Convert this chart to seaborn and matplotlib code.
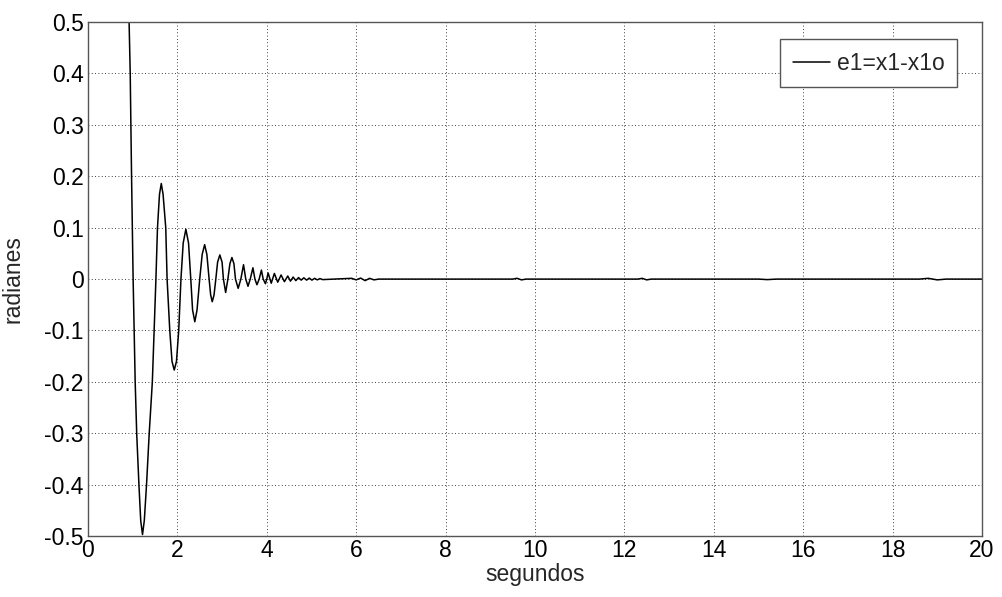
import matplotlib
matplotlib.use("Agg")
import matplotlib.pyplot as plt
import seaborn as sns
import pandas as pd

# ---- data (seconds, radians) ----
t_main = [0.91, 0.92, 0.945, 0.975, 1.01, 1.056, 1.09, 1.14, 1.18, 1.22, 1.26, 1.31, 1.37, 1.44, 1.48, 1.52,
          1.555, 1.60, 1.64, 1.68, 1.74, 1.77,
          1.83, 1.88, 1.93, 1.98, 2.03, 2.08,
          2.13, 2.19, 2.25, 2.30,
          2.34, 2.39, 2.44, 2.50,
          2.555, 2.61, 2.66, 2.71,
          2.745, 2.78, 2.82, 2.86,
          2.90, 2.95, 3.00, 3.03,
          3.08, 3.13,
          3.175, 3.22, 3.265, 3.30,
          3.36, 3.42,
          3.48, 3.53,
          3.58, 3.63,
          3.69, 3.735,
          3.78, 3.83,
          3.88, 3.92,
          3.97, 4.00,
          4.03, 4.10, 4.17, 4.245, 4.32, 4.395, 4.47, 4.53, 4.59, 4.65, 4.71, 4.77, 4.83, 4.89, 4.95,
          5.01, 5.07, 5.13, 5.19, 5.25, 5.5]
e_main = [0.56, 0.50, 0.40, 0.20, 0.00, -0.20, -0.30, -0.40, -0.47, -0.497, -0.47, -0.40, -0.30, -0.20, -0.10, 0.00,
          0.10, 0.165, 0.186, 0.165, 0.10, 0.00,
          -0.10, -0.16, -0.177, -0.16, -0.10, 0.00,
          0.07, 0.097, 0.07, 0.00,
          -0.06, -0.083, -0.06, 0.00,
          0.048, 0.067, 0.048, 0.00,
          -0.031, -0.044, -0.031, 0.00,
          0.033, 0.047, 0.033, 0.00,
          -0.026, 0.00,
          0.030, 0.042, 0.030, 0.00,
          -0.018, 0.00,
          0.028, 0.00,
          -0.014, 0.00,
          0.022, 0.00,
          -0.011, 0.00,
          0.0175, 0.00,
          -0.009, 0.00,
          0.012, -0.008, 0.011, -0.006, 0.008, -0.005, 0.006, -0.004, 0.004, -0.003, 0.003, -0.002, 0.0025, -0.002, 0.002,
          -0.002, 0.0015, -0.0015, 0.001, -0.001, 0.0]
t_tail = [5.9, 6.0, 6.1, 6.2, 6.3, 6.4, 6.5, 9.5, 9.6, 9.7, 9.8, 12.3, 12.4, 12.5, 12.6,
          15.0, 15.2, 15.4, 18.6, 18.8, 19.0, 19.2, 20.0]
e_tail = [0.0015, -0.0015, 0.002, -0.003, 0.0015, -0.0015, 0.0, 0.0, 0.0015, -0.0015, 0.0, 0.0, 0.0015, -0.0015, 0.0,
          0.0, -0.001, 0.0, 0.0, 0.0015, -0.0015, 0.0, 0.0]

x_ticks = [0, 2, 4, 6, 8, 10, 12, 14, 16, 18, 20]
y_ticks = [0.5, 0.4, 0.3, 0.2, 0.1, 0, -0.1, -0.2, -0.3, -0.4, -0.5]
y_tick_labels = ["0.5", "0.4", "0.3", "0.2", "0.1", "0", "-0.1", "-0.2", "-0.3", "-0.4", "-0.5"]

df = pd.DataFrame({"t": t_main + t_tail, "e": e_main + e_tail})
df["serie"] = "e1=x1-x1o"

sns.set_style("white")
plt.rcParams["font.family"] = ["Liberation Sans", "DejaVu Sans"]
plt.rcParams["axes.unicode_minus"] = False

fig = plt.figure(figsize=(10.02, 5.97), dpi=100)
ax = fig.add_axes([0.0878, 0.102, 0.8922, 0.861])

sns.lineplot(data=df, x="t", y="e", hue="serie", palette=["black"], estimator=None, sort=False,
             linewidth=1.1, ax=ax)

ax.set_xlim(0, 20)
ax.set_ylim(-0.5, 0.5)
ax.set_xticks(x_ticks)
ax.set_xticklabels([str(v) for v in x_ticks])
ax.set_yticks(y_ticks)
ax.set_yticklabels(y_tick_labels)
ax.tick_params(direction="in", length=5, width=0.8, labelsize=16.5, colors="black", pad=3)
ax.tick_params(axis="x", pad=2)
ax.grid(True, linestyle=(0, (1, 3)), color="black", linewidth=0.6)
for s in ax.spines.values():
    s.set_color("#555555")
    s.set_linewidth(1.0)
ax.set_xlabel("segundos", fontsize=16.5, labelpad=1)
ax.set_ylabel("radianes", fontsize=16.5, labelpad=14)

leg = ax.legend(loc="upper right", bbox_to_anchor=(0.972, 0.967), fontsize=16.5, frameon=True,
                fancybox=False, edgecolor="#555555", framealpha=1, handlelength=1.6,
                handletextpad=0.3, borderpad=0.55, borderaxespad=0)
leg.get_frame().set_linewidth(1.0)

fig.savefig("out.png", dpi=100)
